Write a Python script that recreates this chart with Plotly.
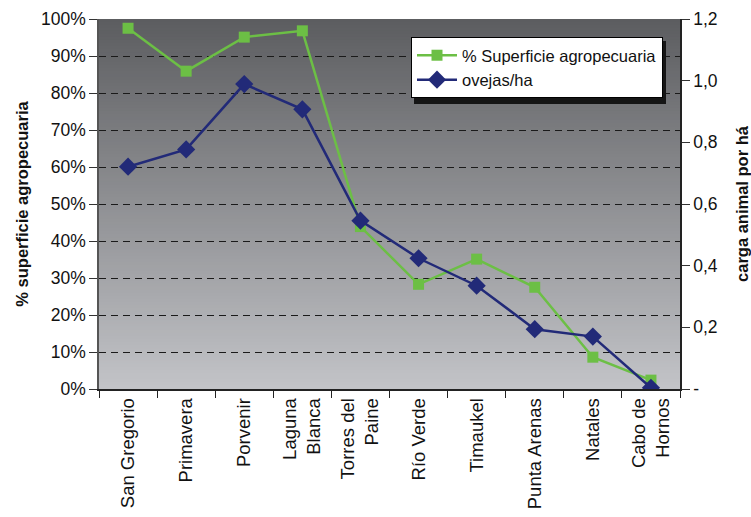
import plotly.graph_objects as go

categories = ["San Gregorio", "Primavera", "Porvenir", "Laguna<br>Blanca",
              "Torres del<br>Paine", "Río Verde", "Timaukel", "Punta Arenas",
              "Natales", "Cabo de<br>Hornos"]
superficie_pct = [97.5, 85.9, 95.1, 96.8, 43.9, 28.3, 35.1, 27.5, 8.6, 2.4]
ovejas_ha = [0.721, 0.777, 0.989, 0.907, 0.546, 0.424, 0.335, 0.194, 0.170, 0.004]

left_ticks = [0, 10, 20, 30, 40, 50, 60, 70, 80, 90, 100]
left_ticktext = ["%d%%" % v for v in left_ticks]
right_ticks = [0, 0.2, 0.4, 0.6, 0.8, 1.0, 1.2]
right_ticktext = ["-", "0,2", "0,4", "0,6", "0,8", "1,0", "1,2"]

FONT = "Liberation Sans, Arial, sans-serif"

fig = go.Figure()
fig.add_trace(go.Scatter(
    x=categories, y=superficie_pct, name="% Superficie agropecuaria",
    mode="lines+markers", line=dict(color="#6cbf45", width=2.5),
    marker=dict(symbol="square", size=11, color="#6cbf45"), yaxis="y"))
fig.add_trace(go.Scatter(
    x=categories, y=ovejas_ha, name="ovejas/ha",
    mode="lines+markers", line=dict(color="#222a78", width=2.5),
    marker=dict(symbol="diamond", size=14, color="#222a78"), yaxis="y2"))

# vertical gradient background of plot area
n = 120
top = (0x5c, 0x5d, 0x60)
bot = (0xc2, 0xc3, 0xc7)
shapes = []
for i in range(n):
    t = i / (n - 1)
    c = tuple(round(top[k] + (bot[k] - top[k]) * t) for k in range(3))
    y1 = 1 - i / n
    y0 = 1 - (i + 1) / n
    shapes.append(dict(type="rect", xref="paper", yref="paper",
                       x0=0, x1=1, y0=y0 - 0.002, y1=min(1, y1 + 0.002),
                       fillcolor="rgb(%d,%d,%d)" % c, line=dict(width=0),
                       layer="below"))

W, H = 751, 517
ml, mr, mt, mb = 99, 71, 19, 128
pw, ph = W - ml - mr, H - mt - mb
def px_x(x): return (x - ml) / pw
def px_y(y): return (H - mb - y) / ph

# legend drop shadow
shapes.append(dict(type="rect", xref="paper", yref="paper",
                   x0=px_x(414), x1=px_x(666), y0=px_y(104), y1=px_y(41),
                   fillcolor="#151515", line=dict(width=0), layer="above"))

fig.update_layout(
    width=W, height=H,
    margin=dict(l=ml, r=mr, t=mt, b=mb, autoexpand=False),
    paper_bgcolor="white", plot_bgcolor="rgba(0,0,0,0)",
    font=dict(family=FONT, size=17, color="#111111"),
    showlegend=True,
    legend=dict(x=px_x(411), y=px_y(37), xanchor="left", yanchor="top",
                bgcolor="white", bordercolor="black", borderwidth=1,
                font=dict(size=16.5, family=FONT), tracegroupgap=0,
                itemwidth=40),
    shapes=shapes,
    xaxis=dict(type="category", tickson="boundaries", ticks="outside",
               ticklen=7, tickcolor="#222", tickangle=-90, showgrid=False,
               showline=True, linecolor="#222", linewidth=1.5, automargin=False,
               tickfont=dict(size=18.5), range=[-0.5, 9.5]),
    yaxis=dict(range=[0, 100], tickvals=left_ticks, ticktext=left_ticktext,
               ticks="outside", ticklen=8, tickcolor="#333", automargin=False,
               showline=True, linecolor="#555", linewidth=1.5,
               showgrid=True, gridcolor="#1a1a1a", gridwidth=1, griddash="7px,5px",
               zeroline=False, tickfont=dict(size=17.5),
               title=dict(text="% superficie agropecuaria",
                          font=dict(size=16.5, weight="bold"),
                          standoff=8)),
    yaxis2=dict(range=[0, 1.2], tickvals=right_ticks, ticktext=right_ticktext,
                overlaying="y", side="right", ticks="outside", ticklen=8,
                tickcolor="#333", showline=True, linecolor="#222", linewidth=1.5,
                showgrid=False, zeroline=False, tickfont=dict(size=17.5),
                automargin=False,
                title=dict(text="carga animal por há",
                           font=dict(size=16.5, weight="bold"), standoff=30)),
)

fig.write_html("out.html")
